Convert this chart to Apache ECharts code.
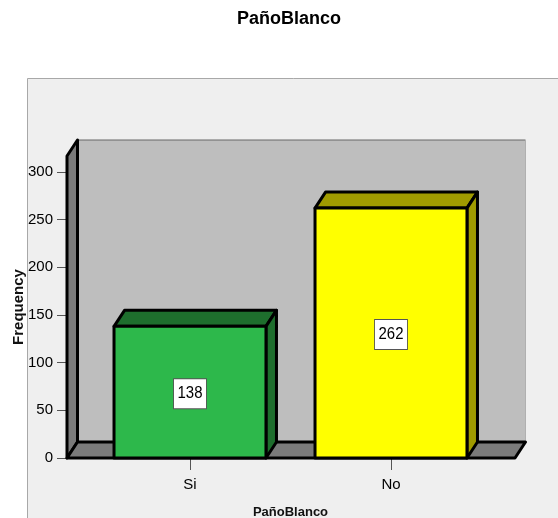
<!DOCTYPE html>
<html>
<head>
<meta charset="utf-8">
<style>html,body{margin:0;padding:0;background:#fff}#c{width:558px;height:518px}</style>
<script src="https://cdn.jsdelivr.net/npm/echarts@6/dist/echarts.min.js"></script>
</head>
<body>
<div id="c"></div>
<script>
const categories = ['Si', 'No'];
const frequencies = [138, 262];
const frontColors = ['#2DB84B', '#FFFF00'];
const sideColors = ['#1E6E2D', '#A09B00'];
const yTicks = [0, 50, 100, 150, 200, 250, 300];
const titleText = 'PañoBlanco';
const xName = 'PañoBlanco';
const yName = 'Frequency';

const DX = 10.5, DY = -16, LEFT_SHIFT = 22.5, RIGHT_SHIFT = 23.5, BAR_RATIO = 0.756;
const FONT = '"Liberation Sans", Arial, sans-serif';
const BLACK = '#000';

function poly(points, fill, lineWidth) {
  return { type: 'polygon', shape: { points }, style: { fill, stroke: BLACK, lineWidth: lineWidth || 3, lineJoin: 'round' } };
}

function renderWalls(params) {
  const c = params.coordSys;
  const x0 = c.x - LEFT_SHIFT, x1 = c.x + c.width + RIGHT_SHIFT;
  const yT = c.y, yB = c.y + c.height;
  return {
    type: 'group',
    children: [
      { type: 'rect', shape: { x: x0 + DX, y: yT + DY, width: x1 - x0, height: c.height },
        style: { fill: '#BEBEBE', stroke: null } },
      { type: 'line', shape: { x1: x0 + DX, y1: yT + DY, x2: x1 + DX, y2: yT + DY },
        style: { stroke: '#666', lineWidth: 1 } },
      { type: 'line', shape: { x1: x1 + DX, y1: yT + DY, x2: x1 + DX, y2: yB + DY },
        style: { stroke: '#B0B0B0', lineWidth: 1 } },
      poly([[x0, yT], [x0 + DX, yT + DY], [x0 + DX, yB + DY], [x0, yB]], '#7B7B7B'),
      poly([[x0, yB], [x0 + DX, yB + DY], [x1 + DX, yB + DY], [x1, yB]], '#7B7B7B')
    ]
  };
}

function renderBar(params, api) {
  const i = params.dataIndex;
  const base = api.coord([api.value(0), 0]);
  const top = api.coord([api.value(0), api.value(1)]);
  const w = api.size([1, 0])[0] * BAR_RATIO;
  const l = base[0] - w / 2, r = base[0] + w / 2;
  const t = top[1], b = base[1];
  return {
    type: 'group',
    children: [
      poly([[l, t], [l + DX, t + DY], [r + DX, t + DY], [r, t]], sideColors[i]),
      poly([[r, t], [r + DX, t + DY], [r + DX, b + DY], [r, b]], sideColors[i]),
      poly([[l, t], [r, t], [r, b], [l, b]], frontColors[i]),
      { type: 'text', x: base[0], y: (t + b) / 2 + 1.5, scaleX: 0.88,
        style: { text: String(api.value(1)), align: 'center', verticalAlign: 'middle',
          font: '17px ' + FONT, fill: '#000', backgroundColor: '#fff',
          borderColor: '#555', borderWidth: 1, padding: [6, 4, 6, 4] } }
    ]
  };
}

const chart = echarts.init(document.getElementById('c'), null, { renderer: 'canvas' });
chart.setOption({
  animation: false,
  backgroundColor: '#fff',
  title: {
    text: titleText, left: 284, top: 5, textAlign: 'center',
    textStyle: { fontFamily: FONT, fontSize: 18, fontWeight: 'bold', color: '#000' }
  },
  graphic: [{
    type: 'rect', z: -10, silent: true,
    shape: { x: 27.5, y: 78.5, width: 560, height: 460 },
    style: { fill: '#EFEFEF', stroke: '#A8A8A8', lineWidth: 1 }
  }],
  grid: { left: 89.5, right: 66.5, top: 156, bottom: 60, containLabel: false, outerBoundsMode: 'none' },
  xAxis: {
    type: 'category', data: categories,
    name: xName, nameLocation: 'middle', nameGap: 48, nameMoveOverlap: false,
    nameTextStyle: { fontFamily: FONT, fontSize: 13, fontWeight: 'bold', color: '#111' },
    axisLine: { show: false },
    axisTick: { show: true, alignWithLabel: true, length: 12, lineStyle: { color: '#555', width: 1 } },
    axisLabel: { fontFamily: FONT, fontSize: 15, color: '#000', margin: 19 }
  },
  yAxis: {
    type: 'value', min: 0, max: 316.6, offset: LEFT_SHIFT,
    name: yName, nameLocation: 'middle', nameGap: 41, nameRotate: 90, nameMoveOverlap: false,
    nameTextStyle: { fontFamily: FONT, fontSize: 15, fontWeight: 'bold', color: '#111' },
    axisLine: { show: false },
    splitLine: { show: false },
    axisTick: { show: true, length: 10, customValues: yTicks, lineStyle: { color: '#555', width: 1 } },
    axisLabel: { fontFamily: FONT, fontSize: 15, color: '#000', margin: 14, customValues: yTicks }
  },
  series: [
    { type: 'custom', z: 1, silent: true, renderItem: renderWalls, data: [0], encode: { x: 0 } },
    { type: 'custom', z: 2, renderItem: renderBar,
      data: categories.map((c, i) => [i, frequencies[i]]), encode: { x: 0, y: 1 } }
  ]
});
</script>
</body>
</html>
